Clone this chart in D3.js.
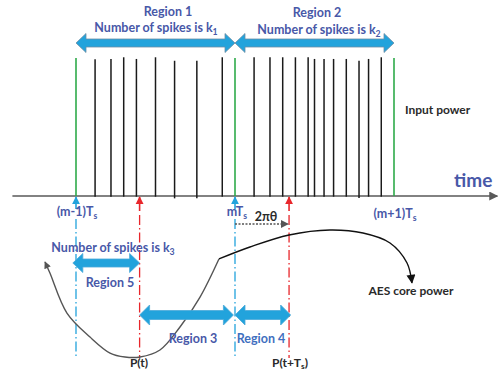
<!DOCTYPE html>
<html>
<head>
<meta charset="utf-8">
<script src="https://cdn.jsdelivr.net/npm/d3@7"></script>
<style>
  body { margin: 0; background: #fff; }
  text { font-family: Lato, "Open Sans", sans-serif; font-weight: bold; }
</style>
</head>
<body>
<script>
// time in units of Ts, (m-1)Ts = 0
const periodTicks = [0, 1, 2];
const periodLabels = ["(m-1)T", "mT", "(m+1)T"];

// input power spikes
const spikeTimes = [0.12, 0.22, 0.30, 0.38, 0.50, 0.62, 0.76, 0.92,
                    1.12, 1.22, 1.30, 1.38, 1.46, 1.50, 1.56, 1.62, 1.70, 1.78, 1.84, 1.92];
const spikeTops = [0.983, 0.986, 0.998, 0.986, 0.998, 0.973, 0.973, 0.998,
                   0.998, 0.998, 0.998, 0.998, 0.998, 0.986, 0.986, 0.986, 0.986, 0.973, 0.986, 0.998];
const spikeBottoms = [-0.005, -0.005, -0.005, -0.005, -0.005, -0.017, -0.017, -0.005,
                      -0.005, -0.005, -0.005, -0.005, -0.005, -0.005, -0.005, -0.005, -0.005, -0.014, -0.005, -0.005];
const boundaryTop = 0.993;

// AES core power curve (t, p)
const coreT1 = [-0.195, -0.164, -0.057, 0.088, 0.214, 0.308, 0.403, 0.528, 0.654, 0.780, 0.899];
const coreP1 = [0.748, 0.661, 0.346, 0.157, 0.031, 0.0, 0.0, 0.055, 0.236, 0.472, 0.772];
const coreT2 = [0.899, 1.094, 1.340, 1.597, 1.805, 1.975, 2.082, 2.113];
const coreP2 = [0.772, 0.866, 0.961, 1.0, 0.976, 0.898, 0.740, 0.583];

// sample instants
const sampleT = 0.40, sampleTs = 1.34;

// regions
const regionNames = ["Region 1", "Region 2", "Region 5", "Region 3", "Region 4"];
const regionStart = [0, 1, -0.02, 0.40, 1.0];
const regionEnd = [1, 2, 0.40, 0.99, 1.35];

const W = 498, H = 370;
const x = d3.scaleLinear().domain([0, 2]).range([76, 394]);
const yIn = d3.scaleLinear().domain([0, 1]).range([196, 57]);
const yP = d3.scaleLinear().domain([0, 1]).range([357, 230]);

const blue = "#22a3dc", red = "#e8262b", txtBlue = "#4858a8", dark = "#2a2a2a";

const svg = d3.select("body").append("svg")
  .attr("width", W).attr("height", H)
  .style("background", "#fff");

const defs = svg.append("defs");
function marker(id, color, w, h) {
  defs.append("marker")
    .attr("id", id)
    .attr("viewBox", "0 0 10 10")
    .attr("refX", 9).attr("refY", 5)
    .attr("markerUnits", "userSpaceOnUse")
    .attr("markerWidth", w).attr("markerHeight", h)
    .attr("orient", "auto-start-reverse")
    .append("path")
    .attr("d", "M0,0 L10,5 L0,10 Z")
    .attr("fill", color);
}
marker("ax", "#595959", 9, 9);
marker("bl", blue, 8, 9);
marker("rd", red, 8, 9);
marker("gr", "#555", 10, 7);
marker("bk", "#111", 11, 9);
marker("dt", "#555", 8, 8);

// text with subscript helper
function label(g, px, py, parts, size, color, anchor) {
  const t = g.append("text")
    .attr("x", px).attr("y", py)
    .attr("font-size", size)
    .attr("fill", color)
    .attr("text-anchor", anchor || "middle");
  parts.forEach(p => {
    if (p[1]) {
      t.append("tspan").attr("font-size", size * 0.7).attr("dy", size * 0.2).text(p[0]);
    } else {
      t.append("tspan").attr("dy", p[2] ? -size * 0.2 : 0).text(p[0]);
    }
  });
  return t;
}

// time axis
svg.append("line")
  .attr("x1", x(-0.4)).attr("x2", x(2.65))
  .attr("y1", yIn(0)).attr("y2", yIn(0))
  .attr("stroke", "#595959").attr("stroke-width", 1.5)
  .attr("marker-end", "url(#ax)");

// spikes
svg.selectAll("line.spike")
  .data(spikeTimes)
  .enter().append("line")
  .attr("class", "spike")
  .attr("x1", d => x(d)).attr("x2", d => x(d))
  .attr("y1", (d, i) => yIn(spikeBottoms[i]))
  .attr("y2", (d, i) => yIn(spikeTops[i]))
  .attr("stroke", "#1a1a1a").attr("stroke-width", 1.5);

// period boundaries (green)
svg.selectAll("line.bound")
  .data(periodTicks)
  .enter().append("line")
  .attr("class", "bound")
  .attr("x1", d => x(d)).attr("x2", d => x(d))
  .attr("y1", yIn(0)).attr("y2", yIn(boundaryTop))
  .attr("stroke", "#2eaa4a").attr("stroke-width", 1.6);

// blue dash-dot at (m-1)Ts and mTs
[0, 1].forEach(t => {
  svg.append("line")
    .attr("x1", x(t)).attr("x2", x(t)).attr("y1", 209).attr("y2", yIn(0) + 1)
    .attr("stroke", blue).attr("stroke-width", 1.6).attr("marker-end", "url(#bl)");
  svg.append("line")
    .attr("x1", x(t)).attr("x2", x(t)).attr("y1", 219).attr("y2", yP(0))
    .attr("stroke", blue).attr("stroke-width", 1.3)
    .attr("stroke-dasharray", "10,3,1.5,3");
});

// red sampling instants
[sampleT, sampleTs].forEach(t => {
  svg.append("line")
    .attr("x1", x(t)).attr("x2", x(t)).attr("y1", 211).attr("y2", yIn(0) + 1)
    .attr("stroke", red).attr("stroke-width", 1.6).attr("marker-end", "url(#rd)");
  svg.append("line")
    .attr("x1", x(t)).attr("x2", x(t)).attr("y1", 215).attr("y2", yP(0) + 1)
    .attr("stroke", red).attr("stroke-width", 1.3)
    .attr("stroke-dasharray", "10,3,1.5,3");
});

// period labels
const labY = [216, 216, 218];
periodTicks.forEach((t, i) => {
  label(svg, x(t) + (i === 1 ? 2 : 1), labY[i], [[periodLabels[i]], ["s", true]], 12.5, txtBlue);
});

// 2πθ
svg.append("line")
  .attr("x1", x(1)).attr("x2", x(sampleTs) - 1)
  .attr("y1", 224).attr("y2", 224)
  .attr("stroke", "#555").attr("stroke-width", 1.4)
  .attr("stroke-dasharray", "2,1.5")
  .attr("marker-end", "url(#dt)");
label(svg, 266, 221, [["2πθ"]], 12.5, dark);

// AES core power curve
const line = d3.line().x(d => x(d[0])).y(d => yP(d[1])).curve(d3.curveCatmullRom);
svg.append("path")
  .attr("d", line(coreT1.map((t, i) => [t, coreP1[i]])))
  .attr("fill", "none").attr("stroke", "#555").attr("stroke-width", 1.4)
  .attr("marker-start", "url(#gr)");
svg.append("path")
  .attr("d", line(coreT2.map((t, i) => [t, coreP2[i]])))
  .attr("fill", "none").attr("stroke", "#111").attr("stroke-width", 1.4)
  .attr("marker-end", "url(#bk)");

// region double arrows
const arrowY = [43, 43, 263, 315, 315];
function dblArrow(x0, x1, yc, sh, hh, hl) {
  return [[x0, yc], [x0 + hl, yc - hh], [x0 + hl, yc - sh], [x1 - hl, yc - sh], [x1 - hl, yc - hh],
          [x1, yc], [x1 - hl, yc + hh], [x1 - hl, yc + sh], [x0 + hl, yc + sh], [x0 + hl, yc + hh]];
}
svg.selectAll("polygon.reg")
  .data(regionNames)
  .enter().append("polygon")
  .attr("class", "reg")
  .attr("points", (d, i) => dblArrow(x(regionStart[i]), x(regionEnd[i]), arrowY[i],
        i < 3 ? 4 : 4.5, i < 3 ? 9.5 : 10, 10).map(p => p.join(",")).join(" "))
  .attr("fill", blue)
  .attr("stroke", (d, i) => i < 2 ? "#6d8ea5" : "#4aa8d8").attr("stroke-width", 0.8);

// region texts
label(svg, 168, 16, [["Region 1"]], 12.5, txtBlue);
label(svg, 156, 32, [["Number of spikes is k"], ["1", true]], 12.5, txtBlue);
label(svg, 317, 17, [["Region 2"]], 12.5, txtBlue);
label(svg, 319, 34, [["Number of spikes is k"], ["2", true]], 12.5, txtBlue);
label(svg, 113, 252, [["Number of spikes is k"], ["3", true]], 12.5, txtBlue);
label(svg, 110, 287, [["Region 5"]], 12.5, txtBlue);
label(svg, 193, 343, [["Region 3"]], 12.5, txtBlue);
label(svg, 261, 343, [["Region 4"]], 12.5, "#3f6fc0");

// other texts
label(svg, 405, 114, [["Input power"]], 12, dark, "start");
label(svg, 454, 187, [["time"]], 19, txtBlue, "start");
label(svg, 411, 295, [["AES core power"]], 12, dark);
label(svg, 139, 367, [["P(t)"]], 12, dark);
label(svg, 290, 367, [["P(t+T"], ["s", true], [")", false, true]], 12, dark);
</script>
</body>
</html>
